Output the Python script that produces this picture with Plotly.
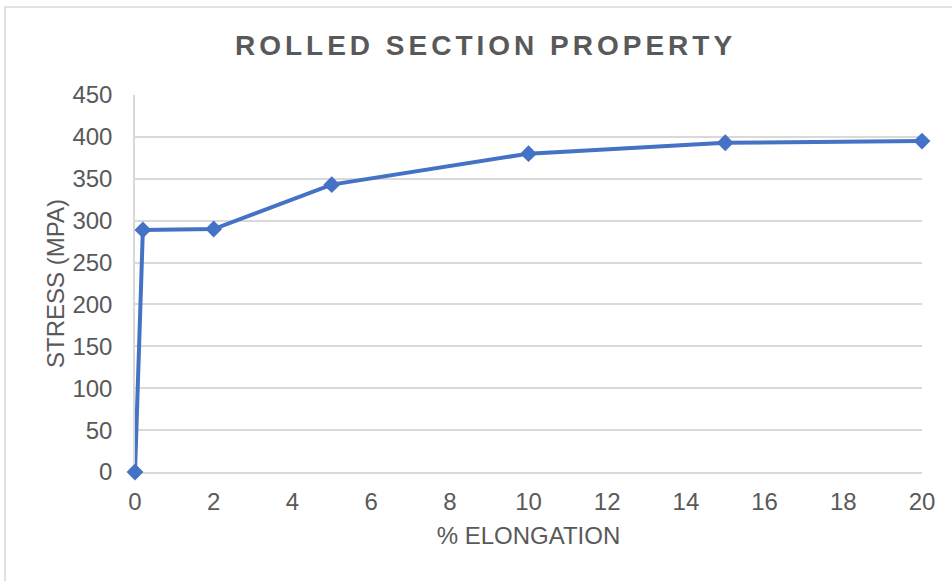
import plotly.graph_objects as go

elongation = [0, 0.2, 2, 5, 10, 15, 20]
stress = [0, 289, 290, 343, 380, 393, 395]
x_ticks = [0, 2, 4, 6, 8, 10, 12, 14, 16, 18, 20]
y_ticks = [0, 50, 100, 150, 200, 250, 300, 350, 400, 450]

title_text = "ROLLED SECTION PROPERTY"
x_title = "% ELONGATION"
y_title = "STRESS (MPA)"

FONT = "Arial, 'Liberation Sans', sans-serif"
GREY = "#595959"
GRID = "#D9D9D9"
BLUE = "#4472C4"

fig = go.Figure()
fig.add_trace(go.Scatter(
    x=elongation, y=stress, mode="lines+markers",
    line=dict(color=BLUE, width=4),
    marker=dict(symbol="diamond", size=13, color=BLUE),
    showlegend=False, hoverinfo="x+y", cliponaxis=False,
))

fig.update_layout(
    width=952, height=581,
    margin=dict(l=135, r=30, t=95, b=109),
    paper_bgcolor="white", plot_bgcolor="white",
    title=dict(
        text=f'<span style="letter-spacing:4px">{title_text}</span>',
        x=0.51, xanchor="center", xref="container",
        y=1 - 45 / 581, yanchor="middle",
        font=dict(family=FONT, size=28, color=GREY, weight="bold"),
    ),
    font=dict(family=FONT, size=24, color=GREY),
    xaxis=dict(
        range=[0, 20], tickvals=x_ticks, ticktext=[str(v) for v in x_ticks],
        showgrid=False, zeroline=False, showline=True, linecolor=GRID, linewidth=1.5,
        ticks="", ticklabelstandoff=7, layer="below traces",
        tickfont=dict(family=FONT, size=24, color=GREY),
        title=dict(text=x_title, standoff=14, font=dict(family=FONT, size=24, color=GREY)),
        fixedrange=True,
    ),
    yaxis=dict(
        range=[0, 450], tickvals=y_ticks, ticktext=[str(v) for v in y_ticks],
        showgrid=True, gridcolor=GRID, gridwidth=1.5,
        zeroline=False, showline=True, linecolor=GRID, linewidth=1.5,
        ticks="", ticklabelstandoff=16, layer="below traces",
        tickfont=dict(family=FONT, size=24, color=GREY),
        title=dict(text=y_title, standoff=1, font=dict(family=FONT, size=24, color=GREY)),
        fixedrange=True,
    ),
    shapes=[dict(
        type="rect", xref="paper", yref="paper",
        x0=(5 - 135) / 787, x1=1.2, y0=-0.5, y1=1 + (95 - 7) / 377.3,
        line=dict(color=GRID, width=1.5), fillcolor="rgba(0,0,0,0)", layer="below",
    )],
)

fig.write_html("out.html")
